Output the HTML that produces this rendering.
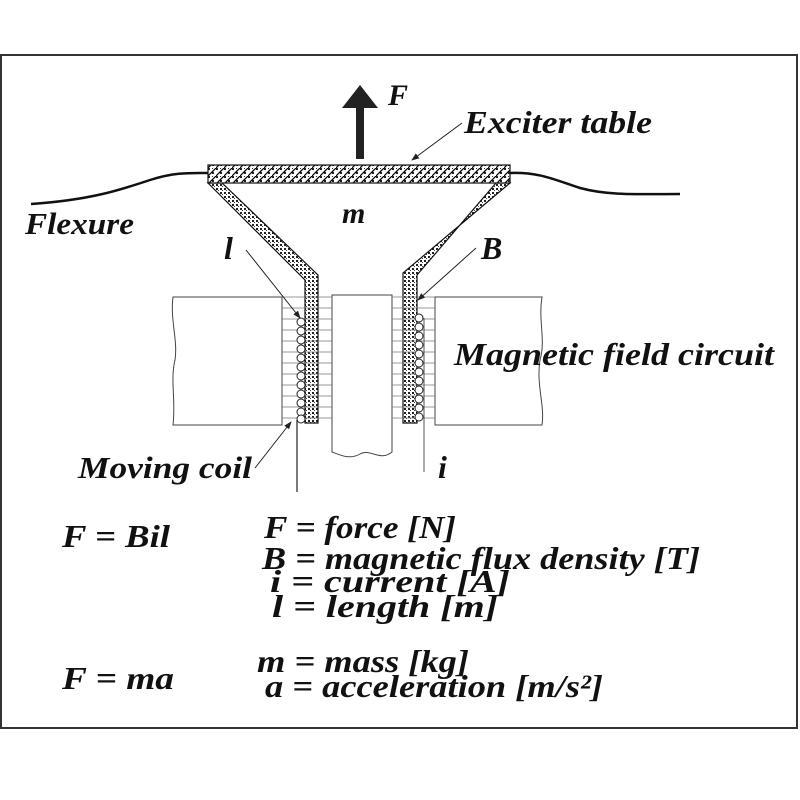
<!DOCTYPE html>
<html><head><meta charset="utf-8"><style>
html,body{margin:0;padding:0;background:#fff}
svg{display:block}
text{font-family:"Liberation Serif",serif;font-weight:bold;font-style:italic;fill:#111}
</style></head><body>
<svg width="800" height="800" viewBox="0 0 800 800" xmlns="http://www.w3.org/2000/svg">
<defs>
<pattern id="hatch" width="8" height="8" patternUnits="userSpaceOnUse">
<rect width="8" height="8" fill="#fff"/>
<rect width="2" height="2" fill="#222"/><rect x="4" y="4" width="2" height="2" fill="#222"/>
<rect x="4" y="0" width="1" height="1" fill="#333"/>
<path d="M0 8 L8 0" stroke="#000" stroke-width="1.2"/>
</pattern>
<pattern id="dots" width="4" height="4" patternUnits="userSpaceOnUse">
<rect width="4" height="4" fill="#fff"/>
<rect width="2" height="2" fill="#222"/><rect x="2" y="2" width="1" height="1" fill="#444"/>
</pattern>
<marker id="ah" markerWidth="8" markerHeight="8" refX="7" refY="4" orient="auto" markerUnits="userSpaceOnUse">
<path d="M0 1 L8 4 L0 7 Z" fill="#222"/></marker>
</defs>
<rect x="1" y="55" width="796" height="673" fill="#fff" stroke="#333" stroke-width="2"/>

<path d="M31 204 C 90 200, 120 190, 150 180 C 175 172, 190 173, 208 173" fill="none" stroke="#111" stroke-width="2.5"/>
<path d="M510 173 C 540 172, 555 180, 580 188 C 610 196, 640 194, 680 194" fill="none" stroke="#111" stroke-width="2.5"/>

<rect x="356" y="104" width="8" height="55" fill="#222"/>
<path d="M342 108 L360 85 L378 108 Z" fill="#222"/>

<path d="M208 183 L222 183 L318 275 L318 423 L305 423 L305 280 Z" fill="url(#dots)" stroke="#111" stroke-width="1.2"/>
<path d="M510 183 L496 183 L417 275 L417 423 L403 423 L403 273 Z" fill="url(#dots)" stroke="#111" stroke-width="1.2"/>
<rect x="208" y="165" width="302" height="18" fill="url(#hatch)" stroke="#111" stroke-width="1.2"/>

<path d="M173 297 L282 297 L282 425 L173 425 C 176 400, 170 380, 175 360 C 178 340, 170 320, 173 297 Z" fill="#fff" stroke="#444" stroke-width="1"/>
<path d="M435 297 L542 297 C 538 320, 546 340, 540 360 C 536 385, 545 405, 542 425 L435 425 Z" fill="#fff" stroke="#444" stroke-width="1"/>
<path d="M332 295 L392 295 L392 452 C 380 462, 370 448, 360 454 C 350 460, 340 455, 332 452 Z" fill="#fff" stroke="#444" stroke-width="1"/>
<g stroke="#777" stroke-width="0.8">
<path d="M282 297 H332 M282 308 H332 M282 319 H332 M282 330 H332 M282 341 H332 M282 352 H332 M282 363 H332 M282 374 H332 M282 385 H332 M282 396 H332 M282 407 H332 M282 418 H332"/>
<path d="M392 297 H435 M392 308 H435 M392 319 H435 M392 330 H435 M392 341 H435 M392 352 H435 M392 363 H435 M392 374 H435 M392 385 H435 M392 396 H435 M392 407 H435 M392 418 H435"/>
</g>
<g fill="#fff" stroke="#222" stroke-width="1">
<circle cx="301" cy="322" r="4"/><circle cx="301" cy="331" r="4"/><circle cx="301" cy="340" r="4"/><circle cx="301" cy="349" r="4"/><circle cx="301" cy="358" r="4"/><circle cx="301" cy="367" r="4"/><circle cx="301" cy="376" r="4"/><circle cx="301" cy="385" r="4"/><circle cx="301" cy="394" r="4"/><circle cx="301" cy="403" r="4"/><circle cx="301" cy="412" r="4"/><circle cx="301" cy="419" r="4"/>
<circle cx="419" cy="318" r="4"/><circle cx="419" cy="327" r="4"/><circle cx="419" cy="336" r="4"/><circle cx="419" cy="345" r="4"/><circle cx="419" cy="354" r="4"/><circle cx="419" cy="363" r="4"/><circle cx="419" cy="372" r="4"/><circle cx="419" cy="381" r="4"/><circle cx="419" cy="390" r="4"/><circle cx="419" cy="399" r="4"/><circle cx="419" cy="408" r="4"/><circle cx="419" cy="417" r="4"/>
</g>
<path d="M297 420 V492" stroke="#222" stroke-width="1.2"/>
<path d="M424 318 V472" stroke="#555" stroke-width="1"/>

<g stroke="#222" stroke-width="1" fill="none" marker-end="url(#ah)">
<path d="M462 123 L412 160"/>
<path d="M246 250 L300 318"/>
<path d="M476 248 L418 300"/>
<path d="M255 468 L291 422"/>
</g>

<text x="388" y="105" font-size="30">F</text>
<text x="464" y="133" font-size="32" textLength="188" lengthAdjust="spacingAndGlyphs">Exciter table</text>
<text x="25" y="234" font-size="31" textLength="109" lengthAdjust="spacingAndGlyphs">Flexure</text>
<text x="342" y="223" font-size="30">m</text>
<text x="224" y="259" font-size="32">l</text>
<text x="481" y="259" font-size="32">B</text>
<text x="454" y="365" font-size="32" textLength="320" lengthAdjust="spacingAndGlyphs">Magnetic field circuit</text>
<text x="78" y="478" font-size="31" textLength="174" lengthAdjust="spacingAndGlyphs">Moving coil</text>
<text x="438" y="478" font-size="32">i</text>

<g font-size="32">
<text x="62" y="547" textLength="108" lengthAdjust="spacingAndGlyphs">F = Bil</text>
<text x="264" y="538" textLength="192" lengthAdjust="spacingAndGlyphs">F = force [N]</text>
<text x="262" y="569" textLength="438" lengthAdjust="spacingAndGlyphs">B = magnetic flux density [T]</text>
<text x="270" y="592" textLength="240" lengthAdjust="spacingAndGlyphs">i = current [A]</text>
<text x="272" y="617" textLength="226" lengthAdjust="spacingAndGlyphs">l = length [m]</text>
<text x="62" y="689" textLength="112" lengthAdjust="spacingAndGlyphs">F = ma</text>
<text x="257" y="672" textLength="212" lengthAdjust="spacingAndGlyphs">m = mass [kg]</text>
<text x="265" y="697" textLength="338" lengthAdjust="spacingAndGlyphs">a = acceleration [m/s²]</text>
</g>
</svg>
</body></html>
